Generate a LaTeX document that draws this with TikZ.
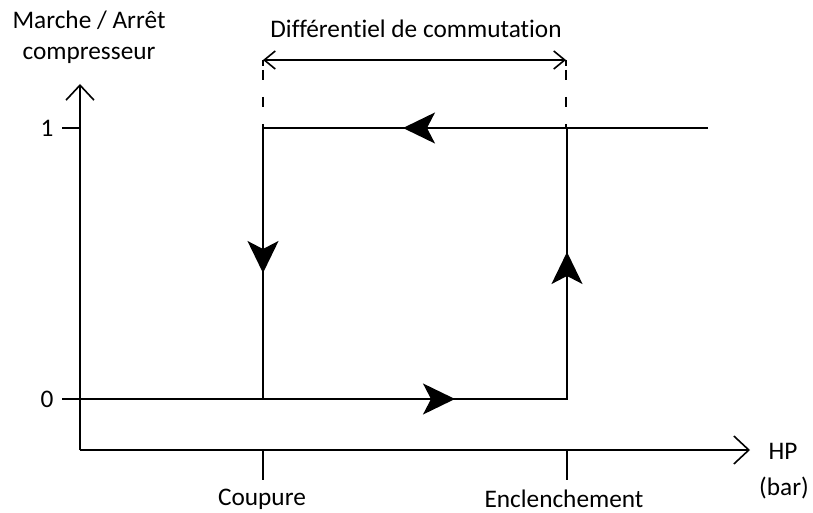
\documentclass[tikz,border=0pt]{standalone}
\usepackage{fontspec}
\setmainfont{Carlito}[Ligatures=NoCommon]
\usetikzlibrary{arrows.meta}
\begin{document}
\begin{tikzpicture}[x=1pt,y=-1pt,
  line/.style={line width=1.6pt,black},
  flow/.style={line width=1.6pt,-{Stealth[length=32pt,width=31pt,inset=8pt]}},
  axis/.style={line width=1.6pt,-{Straight Barb[length=15pt,width=28pt,line width=1.6pt]}},
  dim/.style={line width=1.6pt,{Straight Barb[length=11pt,width=18pt,line width=1.6pt]}-{Straight Barb[length=11pt,width=18pt,line width=1.6pt]}},
  dashline/.style={line width=1.3pt,dash pattern=on 10pt off 17pt},
  lbl/.style={font=\fontsize{25.3}{29}\selectfont,inner sep=0pt}]
\useasboundingbox (0,0) rectangle (813,513);
% axes
\coordinate (O) at (80,450);
\coordinate (Ytip) at (80,84);
\coordinate (Xtip) at (750,450);
\draw[axis] (O) -- (Ytip);
\draw[axis] (O) -- (Xtip);
% ticks
\coordinate (t1a) at (62,128); \coordinate (t1b) at (80,128);
\coordinate (t0a) at (62,399); \coordinate (t0b) at (80,399);
\draw[line] (t1a) -- (t1b);
\draw[line] (t0a) -- (t0b);
\coordinate (cA) at (263,450); \coordinate (cB) at (263,480);
\coordinate (eA) at (567,450); \coordinate (eB) at (567,480);
\draw[line] (cA) -- (cB);
\draw[line] (eA) -- (eB);
% hysteresis loop
\coordinate (TR) at (708,128);
\coordinate (TE) at (567,128);
\coordinate (TC) at (263,128);
\coordinate (BC) at (263,399);
\coordinate (BE) at (567,399);
\coordinate (B0) at (80,399);
\coordinate (aTop) at (403,128);
\coordinate (aLeft) at (263,273);
\coordinate (aRight) at (567,252);
\coordinate (aBot) at (455,399);
\draw[line] (TR) -- (TC) -- (BC);
\draw[line] (B0) -- (BE) -- (TE);
\draw[flow] (TE) -- (aTop);
\draw[flow] (TC) -- (aLeft);
\draw[flow] (BE) -- (aRight);
\draw[flow] (BC) -- (aBot);
% dimension
\coordinate (dL) at (263,60);
\coordinate (dR) at (566,60);
\coordinate (dLb) at (263,128);
\coordinate (dRb) at (566,128);
\draw[dashline] (263,70) -- (dLb);
\draw[dashline] (566,70) -- (dRb);
\draw[line width=1.3pt] (263,60) -- (263,66);
\draw[line width=1.3pt] (566,60) -- (566,66);
\draw[dim] (dL) -- (dR);
% labels
\node[lbl] (ylab1) at (89,20) {Marche / Arrêt};
\node[lbl] (ylab2) at (89,55) {compresseur};
\node[lbl] (one) at (47,128) {1};
\node[lbl] (zero) at (47,399) {0};
\node[lbl] (hp) at (783,451) {HP};
\node[lbl] (bar) at (784,488) {(bar)};
\node[lbl] (coup) at (262,499) {Coupure};
\node[lbl] (encl) at (564,499) {Enclenchement};
\node[lbl] (diff) at (416,29) {Différentiel de commutation};
\end{tikzpicture}
\end{document}
